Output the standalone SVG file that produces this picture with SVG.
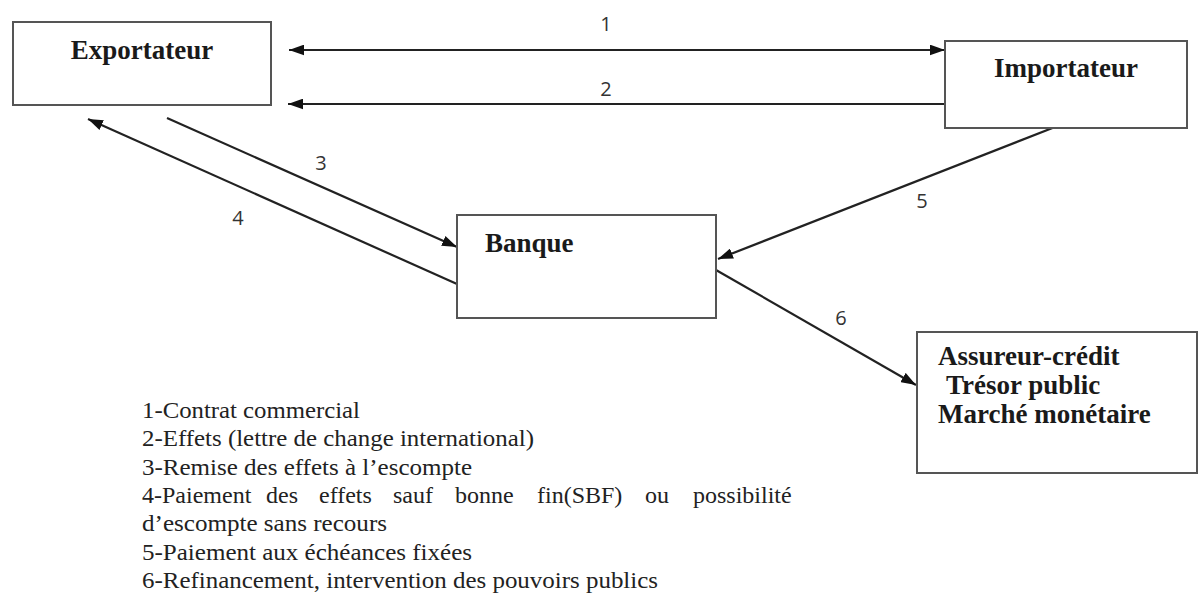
<svg xmlns="http://www.w3.org/2000/svg" width="1203" height="600" viewBox="0 0 1203 600">
<style>
.box{fill:#fff;stroke:#555;stroke-width:2}
.bt{font-family:"Liberation Serif","Times New Roman",serif;font-weight:bold;font-size:27px;fill:#1a1a1a}
.lbl{font-family:"Open Sans","DejaVu Sans",sans-serif;font-size:20px;fill:#333}
.leg{font-family:"Liberation Serif","Times New Roman",serif;font-size:24px;fill:#222}
.c{stroke:#222;stroke-width:2.2;fill:none}
</style>
<defs>
<marker id="a" viewBox="0 0 14 10" refX="14" refY="5" markerWidth="15" markerHeight="11" markerUnits="userSpaceOnUse" orient="auto-start-reverse">
<path d="M0,0 L14,5 L0,10 z" fill="#111"/>
</marker>
</defs>
<rect width="1203" height="600" fill="#fff"/>
<g id="connectors">
<line class="c" x1="289" y1="50" x2="945" y2="50" marker-start="url(#a)" marker-end="url(#a)"/>
<line class="c" x1="945" y1="104" x2="288" y2="104" marker-end="url(#a)"/>
<line class="c" x1="167" y1="118" x2="457" y2="247" marker-end="url(#a)"/>
<line class="c" x1="457" y1="284" x2="88" y2="119" marker-end="url(#a)"/>
<line class="c" x1="1055" y1="127" x2="718" y2="259" marker-end="url(#a)"/>
<line class="c" x1="716" y1="270" x2="916" y2="385" marker-end="url(#a)"/>
<text class="lbl" x="606" y="31" text-anchor="middle">1</text>
<text class="lbl" x="606" y="96" text-anchor="middle">2</text>
<text class="lbl" x="321" y="170" text-anchor="middle">3</text>
<text class="lbl" x="238" y="225" text-anchor="middle">4</text>
<text class="lbl" x="922" y="208" text-anchor="middle">5</text>
<text class="lbl" x="841" y="325" text-anchor="middle">6</text>
</g>
<g id="exportateur">
<rect class="box" x="13" y="22" width="258" height="83"/>
<text class="bt" x="142" y="59" text-anchor="middle">Exportateur</text>
</g>
<g id="importateur">
<rect class="box" x="945" y="41" width="242" height="87"/>
<text class="bt" x="1066" y="77" text-anchor="middle">Importateur</text>
</g>
<g id="banque">
<rect class="box" x="457" y="215" width="259" height="103"/>
<text class="bt" x="485" y="252">Banque</text>
</g>
<g id="assureur">
<rect class="box" x="917" y="332" width="280" height="141"/>
<text class="bt" x="938" y="365">Assureur-crédit</text>
<text class="bt" x="946" y="394">Trésor public</text>
<text class="bt" x="938" y="423">Marché monétaire</text>
</g>
<g id="legend" class="leg">
<text x="142" y="418" textLength="218" lengthAdjust="spacingAndGlyphs">1-Contrat commercial</text>
<text x="142" y="446" textLength="392" lengthAdjust="spacingAndGlyphs">2-Effets (lettre de change international)</text>
<text x="142" y="475" textLength="330" lengthAdjust="spacingAndGlyphs">3-Remise des effets à l’escompte</text>
<text y="503"><tspan x="142">4-Paiement</tspan><tspan x="266">des</tspan><tspan x="319">effets</tspan><tspan x="393">sauf</tspan><tspan x="455">bonne</tspan><tspan x="537">fin(SBF)</tspan><tspan x="645">ou</tspan><tspan x="693">possibilité</tspan></text>
<text x="142" y="531" textLength="245" lengthAdjust="spacingAndGlyphs">d’escompte sans recours</text>
<text x="142" y="560" textLength="330" lengthAdjust="spacingAndGlyphs">5-Paiement aux échéances fixées</text>
<text x="142" y="588" textLength="516" lengthAdjust="spacingAndGlyphs">6-Refinancement, intervention des pouvoirs publics</text>
</g>
</svg>
